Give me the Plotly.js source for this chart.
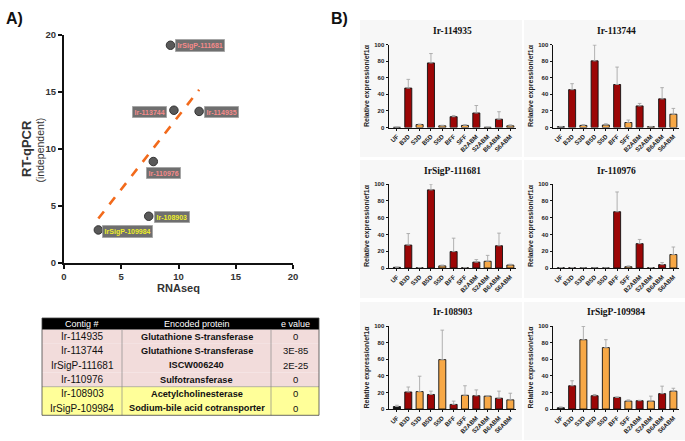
<!DOCTYPE html>
<html><head><meta charset="utf-8">
<script src="https://cdn.plot.ly/plotly-3.0.1.min.js"></script>
<style>html,body{margin:0;padding:0;background:#fff}#chart{width:685px;height:441px}</style>
</head><body><div id="chart"></div>
<script>
// ---------- Panel A data ----------
const contigs = ['IrSigP-111681','Ir-113744','Ir-114935','Ir-110976','Ir-108903','IrSigP-109984'];
const contigGroup = ['red','red','red','red','yellow','yellow'];
const rnaseq = [9.3, 9.6, 11.8, 7.8, 7.4, 3.0];
const rtqpcr = [19.1, 13.4, 13.3, 8.9, 4.1, 2.9];
const trendX = [3.0, 11.8];
const trendY = [3.9, 15.2];

// ---------- Table data ----------
const tableHeader = ['Contig #','Encoded protein','e value'];
const tableContig = ['Ir-114935','Ir-113744','IrSigP-111681','Ir-110976','Ir-108903','IrSigP-109984'];
const tableProtein = ['Glutathione S-transferase','Glutathione S-transferase','ISCW006240','Sulfotransferase','Acetylcholinesterase','Sodium-bile acid cotransporter'];
const tableEvalue = ['0','3E-85','2E-25','0','0','0'];
const tableGroup = ['red','red','red','red','yellow','yellow'];

// ---------- Panel B data ----------
const categories = ['UF','B3D','S3D','B5D','S5D','BFF','SFF','B2ABM','S2ABM','B6ABM','S6ABM'];
const panelTitles = ['Ir-114935','Ir-113744','IrSigP-111681','Ir-110976','Ir-108903','IrSigP-109984'];
const ir114935     = [0.3, 47.5, 3.5, 77.8, 2.0, 13.0, 2.5, 17.5, 0.3, 10.0, 2.0];
const ir114935Err  = [0, 10.5, 0.7, 11.3, 0.7, 1.5, 1.0, 9.0, 0, 9.0, 1.2];
const ir113744     = [1.0, 45.6, 2.5, 80.3, 3.0, 51.8, 6.0, 26.0, 1.0, 34.5, 16.0];
const ir113744Err  = [0.3, 7.2, 1.0, 19.0, 1.5, 21.0, 3.0, 3.0, 0.3, 13.5, 7.0];
const ir111681     = [0.8, 27.3, 0.3, 93.0, 2.5, 19.5, 0.3, 7.0, 8.0, 26.5, 3.5];
const ir111681Err  = [0.3, 13.7, 0.2, 7.0, 1.0, 16.0, 0.2, 3.0, 7.0, 15.0, 1.0];
const ir110976     = [0.3, 0.3, 0, 0, 0, 67.0, 1.5, 29.0, 0.3, 4.0, 16.0];
const ir110976Err  = [0.2, 0.2, 0, 0, 0, 23.5, 1.0, 5.0, 0.2, 2.5, 9.0];
const ir108903     = [3.0, 20.5, 21.0, 17.5, 59.5, 5.5, 16.5, 16.0, 15.5, 13.0, 11.0];
const ir108903Err  = [1.5, 6.0, 18.5, 4.0, 35.5, 4.0, 11.5, 7.0, 0.5, 8.5, 8.0];
const ir109984     = [1.5, 28.0, 83.5, 16.0, 74.0, 14.0, 9.5, 10.0, 9.5, 18.5, 21.5];
const ir109984Err  = [1.0, 6.0, 16.0, 1.5, 9.5, 0.5, 1.5, 0.5, 6.0, 9.0, 3.5];
const panelValues = [ir114935, ir113744, ir111681, ir110976, ir108903, ir109984];
const panelErrors = [ir114935Err, ir113744Err, ir111681Err, ir110976Err, ir108903Err, ir109984Err];

// ---------- styling helpers ----------
const W = 685, H = 441;
const dx = (a,b) => [a/W, b/W];
const dy = (top,bottom) => [1-bottom/H, 1-top/H];
const px = v => v/W, py = v => 1 - v/H;
const barColor = c => c === 'UF' ? '#151515' : (c[0] === 'B' ? '#9c0606' : '#f7a846');
const labelColor = g => g === 'red' ? '#f58a8a' : '#eeee2a';
const rowFill = g => g === 'red' ? '#f2dcdb' : '#ffff99';
const FONT = 'Liberation Sans, Arial, sans-serif';

const traces = [];
const layout = {
  width: W, height: H, margin: {l:0, r:0, t:0, b:0},
  paper_bgcolor: '#ffffff', plot_bgcolor: 'rgba(0,0,0,0)',
  showlegend: false, font: {family: FONT, color: '#222'},
  annotations: [], shapes: []
};

// Panel A scatter
traces.push({
  type: 'scatter', mode: 'lines', x: trendX, y: trendY, xaxis: 'x', yaxis: 'y',
  line: {color: '#f26a1b', width: 2.6, dash: 'dash'}, hoverinfo: 'skip'
});
traces.push({
  type: 'scatter', mode: 'markers', x: rnaseq, y: rtqpcr, text: contigs, xaxis: 'x', yaxis: 'y',
  marker: {color: '#595959', size: 8.5, line: {color: '#333', width: 1}}, cliponaxis: false
});
layout.xaxis = {
  domain: dx(64, 293), anchor: 'y', range: [0, 20], dtick: 5, showgrid: false, zeroline: false,
  showline: true, linecolor: '#111', linewidth: 2, ticks: 'outside', ticklen: 4, tickwidth: 2, tickcolor: '#111',
  tickfont: {size: 9.5, weight: 'bold', color: '#333'},
  title: {text: 'RNAseq', font: {size: 11, weight: 'bold', color: '#333'}, standoff: 3}
};
layout.yaxis = {
  domain: dy(35, 263), anchor: 'x', range: [0, 20], dtick: 5, showgrid: false, zeroline: false,
  showline: true, linecolor: '#111', linewidth: 2, ticks: 'outside', ticklen: 4, tickwidth: 2, tickcolor: '#111',
  tickfont: {size: 9.5, weight: 'bold', color: '#333'}
};
// y-axis title of panel A (two lines placed precisely)
layout.annotations.push({xref: 'paper', yref: 'paper', x: px(26), y: py(149), text: 'RT-qPCR', textangle: -90,
  showarrow: false, xanchor: 'center', yanchor: 'middle', font: {size: 13, weight: 'bold', color: '#333'}});
layout.annotations.push({xref: 'paper', yref: 'paper', x: px(39.5), y: py(150), text: '(independent)', textangle: -90,
  showarrow: false, xanchor: 'center', yanchor: 'middle', font: {size: 10.5, color: '#333'}});
// scatter labels
const labelPlace = {
  'IrSigP-111681': {xanchor: 'left', xshift: 5, yshift: 0},
  'Ir-113744':     {xanchor: 'right', xshift: -7, yshift: -2},
  'Ir-114935':     {xanchor: 'left', xshift: 5, yshift: -1},
  'Ir-110976':     {xanchor: 'left', xshift: -7, yshift: -11},
  'Ir-108903':     {xanchor: 'left', xshift: 5, yshift: -1},
  'IrSigP-109984': {xanchor: 'left', xshift: 4, yshift: -2}
};
contigs.forEach((c, i) => {
  const p = labelPlace[c];
  layout.annotations.push({
    xref: 'x', yref: 'y', x: rnaseq[i], y: rtqpcr[i], text: c, showarrow: false,
    xanchor: p.xanchor, yanchor: 'middle', xshift: p.xshift, yshift: p.yshift,
    bgcolor: '#6f6f6f', bordercolor: '#b0b0b0', borderwidth: 0.6, borderpad: 2,
    font: {size: 7, weight: 'bold', color: labelColor(contigGroup[i])}
  });
});

// Table (drawn with paper-referenced shapes and annotations, built from the table arrays)
const tabCols = [42, 122, 271, 319];
const tabHeadTop = 318, tabHeadBot = 329.5, tabRowH = 14.3;
const tabColumns = [tableContig, tableProtein, tableEvalue];
const tabFonts = [{size: 10, color: '#111'}, {size: 9.2, weight: 'bold', color: '#111'}, {size: 9.5, color: '#111'}];
layout.shapes.push({type: 'rect', xref: 'paper', yref: 'paper', layer: 'above',
  x0: px(tabCols[0]), x1: px(tabCols[3]), y0: py(tabHeadBot), y1: py(tabHeadTop),
  fillcolor: '#000000', line: {width: 0}});
tableHeader.forEach((h, j) => {
  layout.annotations.push({xref: 'paper', yref: 'paper', x: px((tabCols[j] + tabCols[j+1]) / 2),
    y: py((tabHeadTop + tabHeadBot) / 2), text: h, showarrow: false, xanchor: 'center', yanchor: 'middle',
    font: {size: 9, color: '#ffffff'}});
});
tableContig.forEach((_, i) => {
  const top = tabHeadBot + i * tabRowH, bot = top + tabRowH;
  layout.shapes.push({type: 'rect', xref: 'paper', yref: 'paper', layer: 'below',
    x0: px(tabCols[0]), x1: px(tabCols[3]), y0: py(bot), y1: py(top),
    fillcolor: rowFill(tableGroup[i]), line: {width: 0}});
  tabColumns.forEach((col, j) => {
    layout.annotations.push({xref: 'paper', yref: 'paper', x: px((tabCols[j] + tabCols[j+1]) / 2),
      y: py((top + bot) / 2), text: col[i], showarrow: false, xanchor: 'center', yanchor: 'middle',
      font: tabFonts[j]});
  });
});
const tabBottom = tabHeadBot + tableContig.length * tabRowH;
[1, 2].forEach(j => layout.shapes.push({type: 'line', xref: 'paper', yref: 'paper', layer: 'above',
  x0: px(tabCols[j]), x1: px(tabCols[j]), y0: py(tabBottom), y1: py(tabHeadBot),
  line: {color: '#8a8a8a', width: 0.7}}));
layout.shapes.push({type: 'line', xref: 'paper', yref: 'paper', layer: 'above',
  x0: px(tabCols[0]), x1: px(tabCols[3]), y0: py(tabHeadBot + 4 * tabRowH), y1: py(tabHeadBot + 4 * tabRowH),
  line: {color: '#8a8a8a', width: 0.6}});
layout.shapes.push({type: 'rect', xref: 'paper', yref: 'paper', layer: 'above',
  x0: px(tabCols[0]), x1: px(tabCols[3]), y0: py(tabBottom), y1: py(tabHeadTop),
  line: {color: '#444', width: 0.8}});

// Panel B bar charts
const colsX = [[389, 516], [553, 679]];
const rowsY = [[44.5, 127.5], [184, 268], [326, 409]];
const titleY = [31, 171, 312];
const bgX = [[360, 522], [524, 685]];
const bgY = [[20, 157], [160, 298], [302, 440]];
panelTitles.forEach((t, k) => {
  const r = Math.floor(k / 2), c = k % 2;
  const n = k + 2;
  const xa = 'x' + n, ya = 'y' + n;
  traces.push({
    type: 'bar', x: categories, y: panelValues[k], xaxis: xa, yaxis: ya, width: 0.62,
    marker: {color: categories.map(barColor), line: {color: '#111', width: 0.9}},
    error_y: {type: 'data', array: panelErrors[k], arrayminus: categories.map(() => 0), symmetric: false,
              color: '#a8a8a8', thickness: 0.9, width: 1.8},
    cliponaxis: false
  });
  layout['xaxis' + n] = {
    domain: dx(colsX[c][0], colsX[c][1]), anchor: ya, type: 'category', range: [-0.7, 10.5],
    showline: true, linecolor: '#111', linewidth: 1, ticks: 'outside', ticklen: 2, tickcolor: '#111',
    tickangle: -45, tickfont: {size: 6.2, weight: 'bold', color: '#222'}, showgrid: false, zeroline: false
  };
  layout['yaxis' + n] = {
    domain: dy(rowsY[r][0], rowsY[r][1]), anchor: xa, range: [0, 100], dtick: 20,
    showline: true, linecolor: '#111', linewidth: 1, ticks: 'outside', ticklen: 2.5, tickcolor: '#111',
    tickfont: {size: 6, weight: 'bold', color: '#222'}, showgrid: false, zeroline: false,
    title: {text: 'Relative expression/ef1α', font: {size: 7, weight: 'bold', color: '#222'}, standoff: 3}
  };
  layout.annotations.push({
    xref: 'paper', yref: 'paper', x: px((colsX[c][0] + colsX[c][1]) / 2), y: py(titleY[r]),
    text: t, showarrow: false, xanchor: 'center', yanchor: 'middle',
    font: {family: 'Liberation Serif, Times New Roman, serif', size: 9.5, weight: 'bold', color: '#111'}
  });
  layout.shapes.push({
    type: 'rect', xref: 'paper', yref: 'paper', layer: 'below',
    x0: px(bgX[c][0]), x1: px(bgX[c][1]), y0: py(bgY[r][1]), y1: py(bgY[r][0]),
    fillcolor: '#f7f7f7', line: {width: 0}
  });
});

// Panel letters
layout.annotations.push({xref: 'paper', yref: 'paper', x: px(4), y: py(18), text: 'A)', showarrow: false,
  xanchor: 'left', yanchor: 'middle', font: {size: 16, weight: 'bold', color: '#111'}});
layout.annotations.push({xref: 'paper', yref: 'paper', x: px(329), y: py(18), text: 'B)', showarrow: false,
  xanchor: 'left', yanchor: 'middle', font: {size: 16, weight: 'bold', color: '#111'}});

Plotly.newPlot('chart', traces, layout, {staticPlot: true, displayModeBar: false});
</script>
</body></html>
